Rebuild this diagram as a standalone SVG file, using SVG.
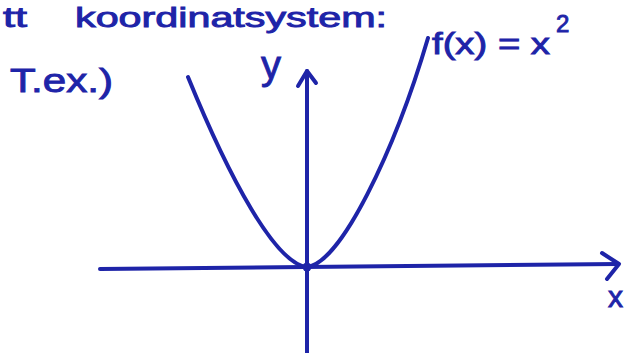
<svg xmlns="http://www.w3.org/2000/svg" width="629" height="353" viewBox="0 0 629 353">
  <style>
    .ink { fill: none; stroke: #1e24a8; stroke-width: 4; stroke-linecap: round; stroke-linejoin: round; }
    .lbl { font-family: "Liberation Sans", Arial, sans-serif; fill: #1e24a8; stroke: #1e24a8; stroke-width: 0.9; }
  </style>
  <rect width="629" height="353" fill="#ffffff"/>
  <g id="heading">
    <text class="lbl" x="3" y="27" font-size="28" textLength="24" lengthAdjust="spacingAndGlyphs">tt</text>
    <text class="lbl" x="75" y="27" font-size="28" textLength="312" lengthAdjust="spacingAndGlyphs">koordinatsystem:</text>
  </g>
  <g id="example-label">
    <text class="lbl" x="10" y="92" font-size="34" textLength="103" lengthAdjust="spacingAndGlyphs">T.ex.)</text>
  </g>
  <g id="axes">
    <path class="ink" d="M 100 269 L 618 264"/>
    <path class="ink" d="M 602 253 L 619 264 L 607 279"/>
    <path class="ink" d="M 307 71 L 307 353"/>
    <path class="ink" d="M 298 86 L 307 71 L 316 83"/>
    <circle cx="307" cy="267" r="4.5" fill="#1e24a8"/>
  </g>
  <g id="parabola">
    <path class="ink" d="M 188 77 C 230 180 275 262 306 267 C 340 266 395 150 428 38"/>
  </g>
  <g id="y-label">
    <text class="lbl" x="261" y="79" font-size="40">y</text>
  </g>
  <g id="x-label">
    <text class="lbl" x="608" y="307" font-size="30">x</text>
  </g>
  <g id="function-label">
    <text class="lbl" x="432" y="54" font-size="30" textLength="118" lengthAdjust="spacingAndGlyphs">f(x) = x</text>
    <text class="lbl" x="556" y="32" font-size="24">2</text>
  </g>
</svg>
